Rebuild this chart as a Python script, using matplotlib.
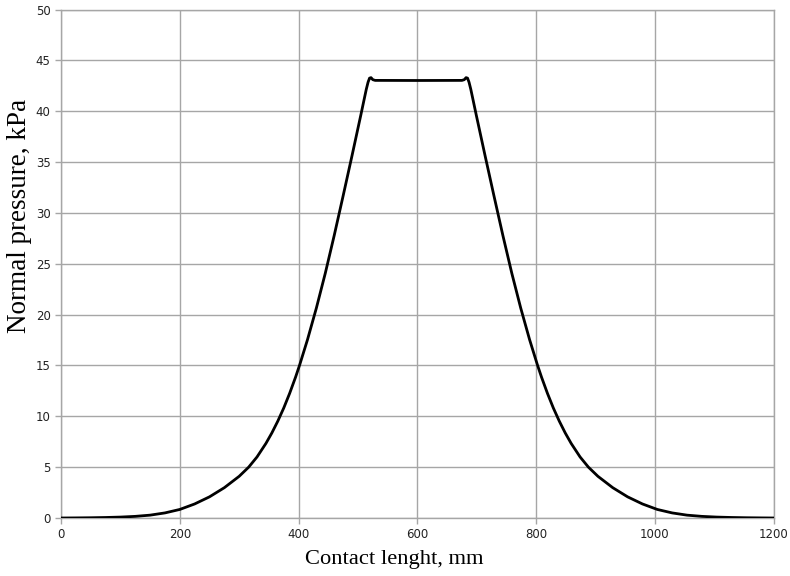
import numpy as np
import matplotlib.pyplot as plt

# Contact pressure profile
contact_mm = [0, 25, 50, 75, 100, 125, 150, 175, 200, 225, 250, 275, 300, 316,
              330, 345, 355, 365, 375, 385, 395, 402, 415, 430, 445, 460, 475,
              490, 505, 510, 514, 517, 519.5, 522, 525, 529,
              600,
              675, 679, 682, 684.5, 687, 690, 694, 699, 714, 729, 744, 759, 774,
              789, 802, 809, 819, 829, 839, 849, 859, 874, 888, 904, 929, 954,
              979, 1004, 1029, 1054, 1079, 1104, 1129, 1154, 1179, 1200]
pressure_kpa = [0.0, 0.01, 0.025, 0.05, 0.09, 0.16, 0.28, 0.5, 0.84, 1.38, 2.08, 2.98, 4.1, 5.0,
                6.0, 7.33, 8.36, 9.52, 10.81, 12.26, 13.86, 15.08, 17.53, 20.65, 24.07, 27.78, 31.67,
                35.63, 39.67, 41.05, 42.15, 42.85, 43.25, 43.3, 43.1, 43.03,
                43.02,
                43.03, 43.1, 43.3, 43.25, 42.85, 42.15, 41.05, 39.67, 35.63, 31.67, 27.78, 24.07, 20.65,
                17.53, 15.08, 13.86, 12.26, 10.81, 9.52, 8.36, 7.33, 6.0, 5.0, 4.1, 2.98, 2.08,
                1.38, 0.84, 0.5, 0.28, 0.16, 0.09, 0.05, 0.025, 0.01, 0.0]

x_ticks = np.arange(0, 1201, 200)
y_ticks = np.arange(0, 51, 5)

fig = plt.figure(figsize=(7.9, 5.76), dpi=100)
ax = fig.add_axes([0.0772, 0.1007, 0.9794 - 0.0772, 0.9835 - 0.1007])

ax.plot(contact_mm, pressure_kpa, color='black', lw=2.0,
        solid_joinstyle='round', solid_capstyle='round', zorder=3)

ax.set_xlim(0, 1200)
ax.set_ylim(0, 50)
ax.set_xticks(x_ticks)
ax.set_yticks(y_ticks)
ax.grid(True, color='#a6a6a6', lw=1.0)
ax.set_axisbelow(True)
for s in ax.spines.values():
    s.set_color('#a6a6a6')
    s.set_linewidth(1.0)

ax.tick_params(axis='both', colors='#a6a6a6', labelcolor='#222222', labelsize=8.5,
               length=4, width=1.0)

ax.set_xlabel('Contact lenght, mm', family='Liberation Serif', fontsize=16.2, labelpad=6)
ax.set_ylabel('Normal pressure, kPa', family='Liberation Serif', fontsize=19.5, labelpad=3)
# labels in the reference sit off-centre
ax.xaxis.label.set_x(0.467)
ax.yaxis.label.set_y(0.594)

fig.savefig('out.png', dpi=100)
